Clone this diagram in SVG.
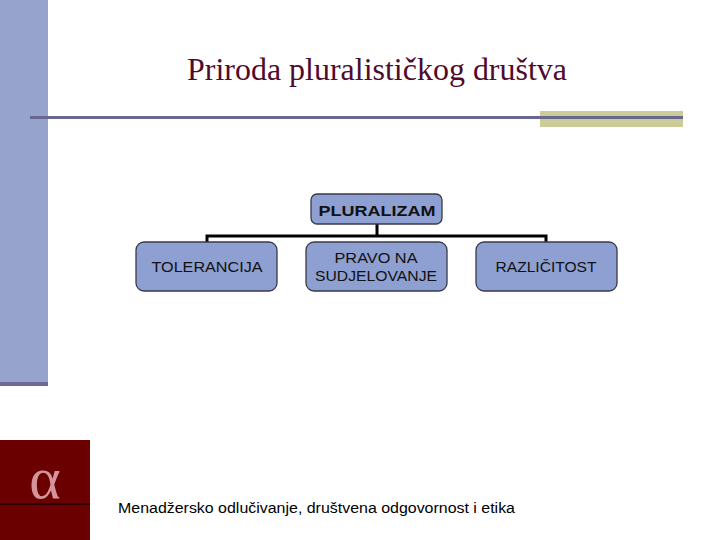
<svg xmlns="http://www.w3.org/2000/svg" width="720" height="540" viewBox="0 0 720 540">
<style>
.node{fill:#8e9fd2;stroke:#3a3a4a;stroke-width:1.3}
.lbl{font-family:"Liberation Sans",Arial,sans-serif;font-size:15.5px;fill:#111;text-anchor:middle}
.conn{fill:none;stroke:#000;stroke-width:3}
</style>
<rect width="720" height="540" fill="#fff"/>
<rect x="0" y="0" width="48" height="382" fill="#96a4cd"/>
<rect x="0" y="382" width="48" height="4" fill="#6b6b96"/>
<rect x="540" y="111" width="143" height="16" fill="#cccc99"/>
<rect x="30" y="116" width="653" height="3" fill="#67678f"/>
<text x="377" y="80" font-family="Liberation Serif,Times New Roman,serif" font-size="31.5" fill="#4f0a2e" text-anchor="middle" textLength="380" lengthAdjust="spacingAndGlyphs">Priroda pluralističkog društva</text>
<g id="connectors">
<path class="conn" d="M377 224 V236 M207 243 V236 H546 V243"/>
</g>
<g id="pluralizam">
<rect class="node" x="311" y="194" width="131" height="30" rx="6"/>
<text class="lbl" x="377" y="216" font-weight="bold" font-size="16" textLength="117" lengthAdjust="spacingAndGlyphs">PLURALIZAM</text>
</g>
<g id="tolerancija">
<rect class="node" x="136" y="242" width="141" height="49" rx="8"/>
<text class="lbl" x="207" y="272" textLength="111" lengthAdjust="spacingAndGlyphs">TOLERANCIJA</text>
</g>
<g id="pravo">
<rect class="node" x="306" y="242" width="141" height="49" rx="8"/>
<text class="lbl" x="376" y="263" textLength="83" lengthAdjust="spacingAndGlyphs">PRAVO NA</text>
<text class="lbl" x="376" y="281" textLength="122" lengthAdjust="spacingAndGlyphs">SUDJELOVANJE</text>
</g>
<g id="razlicitost">
<rect class="node" x="476" y="242" width="141" height="49" rx="8"/>
<text class="lbl" x="546" y="272" textLength="101" lengthAdjust="spacingAndGlyphs">RAZLIČITOST</text>
</g>
<rect x="0" y="440" width="90" height="100" fill="#6b0000"/>
<rect x="0" y="503" width="90" height="2" fill="#2a0000"/>
<text x="45" y="498" font-family="Liberation Serif,Times New Roman,serif" font-size="60" fill="#d4959a" text-anchor="middle">α</text>
<text x="118" y="513" font-family="Liberation Sans,Arial,sans-serif" font-size="15.5" fill="#000" textLength="397" lengthAdjust="spacingAndGlyphs">Menadžersko odlučivanje, društvena odgovornost i etika</text>
</svg>
